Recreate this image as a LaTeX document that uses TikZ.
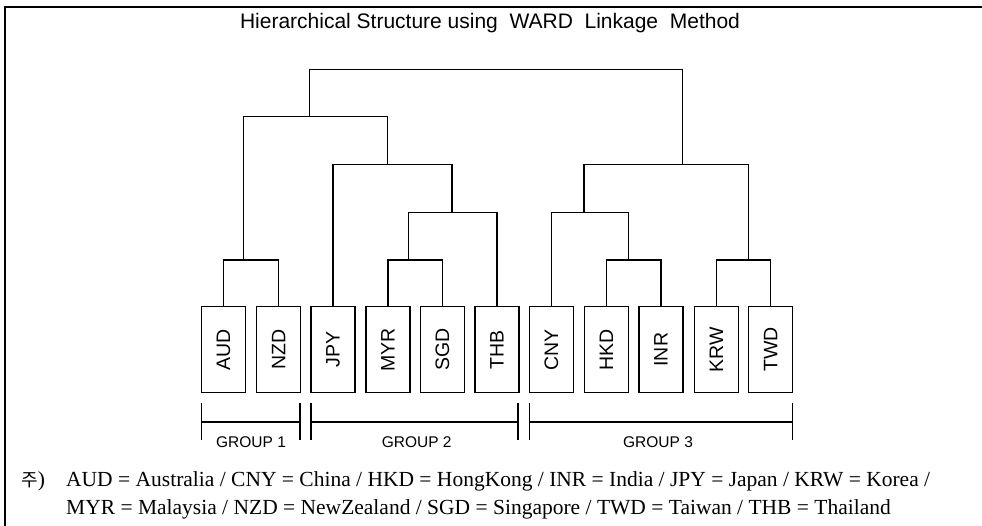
\documentclass[tikz,border=0pt]{standalone}
\usepackage{fontspec}
\setmainfont{Liberation Serif}
\setsansfont{Liberation Sans}
\newfontfamily\krfont{Noto Sans CJK KR}
\begin{document}
\begin{tikzpicture}[x=1pt,y=-1pt,
  cur/.style={draw=black,rectangle,line width=1.3pt,minimum width=44pt,minimum height=86pt,inner sep=0pt,font=\sffamily\fontsize{19.5}{19.5}\selectfont},
  tree/.style={line width=1.2pt},
  brk/.style={line width=1.1pt},
  grp/.style={font=\sffamily\fontsize{15.5}{15.5}\selectfont,inner sep=0pt},
  note/.style={font=\fontsize{21.5}{21.5}\selectfont,anchor=west,inner sep=0pt}]
\useasboundingbox (0,0) rectangle (982,526);
% frame
\draw[line width=1.8pt] (5,526) -- (5,7) -- (982,7);
% title
\node[font=\sffamily\fontsize{21}{21}\selectfont,inner sep=0pt] (title) at (490,23) {Hierarchical Structure using \ WARD \ Linkage \ Method};
% boxes
\foreach \n/\x in {AUD/223.5,NZD/278.7,JPY/333,MYR/388,SGD/442.5,THB/497,CNY/551.3,HKD/606.3,INR/661,KRW/716.3,TWD/770.7}
  \node[cur] (\n) at (\x,349.7) {\rotatebox{90}{\n}};
% internal points
\coordinate (a) at (243.2,260);
\coordinate (m) at (408.6,260);
\coordinate (mt) at (452,212.3);
\coordinate (j) at (387.3,164.3);
\coordinate (L) at (309.5,116.7);
\coordinate (hi) at (628.1,260);
\coordinate (chi) at (583.9,212.3);
\coordinate (kt) at (748.5,260);
\coordinate (R) at (682.2,164.3);
\coordinate (top) at (496,69.3);
\draw[tree] (AUD.north) |- (a) -| (NZD.north);
\draw[tree] (MYR.north) |- (m) -| (SGD.north);
\draw[tree] (m) |- (mt) -| (THB.north);
\draw[tree] (JPY.north) |- (j) -| (mt);
\draw[tree] (a) |- (L) -| (j);
\draw[tree] (HKD.north) |- (hi) -| (INR.north);
\draw[tree] (CNY.north) |- (chi) -| (hi);
\draw[tree] (KRW.north) |- (kt) -| (TWD.north);
\draw[tree] (chi) |- (R) -| (kt);
\draw[tree] (L) |- (top) -| (R);
% group brackets
\coordinate (g1a) at (201.7,402.5); \coordinate (g1b) at (300,402.5);
\coordinate (g2a) at (311,402.5);   \coordinate (g2b) at (518,402.5);
\coordinate (g3a) at (529.3,402.5); \coordinate (g3b) at (792.7,402.5);
\foreach \p in {g1a,g1b,g2a,g2b,g3a,g3b}
  \draw[brk] (\p) -- ++(0,37.5);
\draw[brk] (201.7,422) -- (300,422);
\draw[brk] (311,422) -- (518,422);
\draw[brk] (529.3,422) -- (792.7,422);
\node[grp] (G1) at (251,442) {GROUP 1};
\node[grp] (G2) at (416.7,442) {GROUP 2};
\node[grp] (G3) at (658,442) {GROUP 3};
% footnote
\node[note] (ju) at (21,481) {{\krfont\fontsize{18}{18}\selectfont 주})};
\node[note] (n1) at (66,481) {AUD = Australia / CNY = China / HKD = HongKong / INR = India / JPY = Japan / KRW = Korea /};
\node[note] (n2) at (66,509) {MYR = Malaysia / NZD = NewZealand / SGD = Singapore / TWD = Taiwan / THB = Thailand};
\end{tikzpicture}
\end{document}
